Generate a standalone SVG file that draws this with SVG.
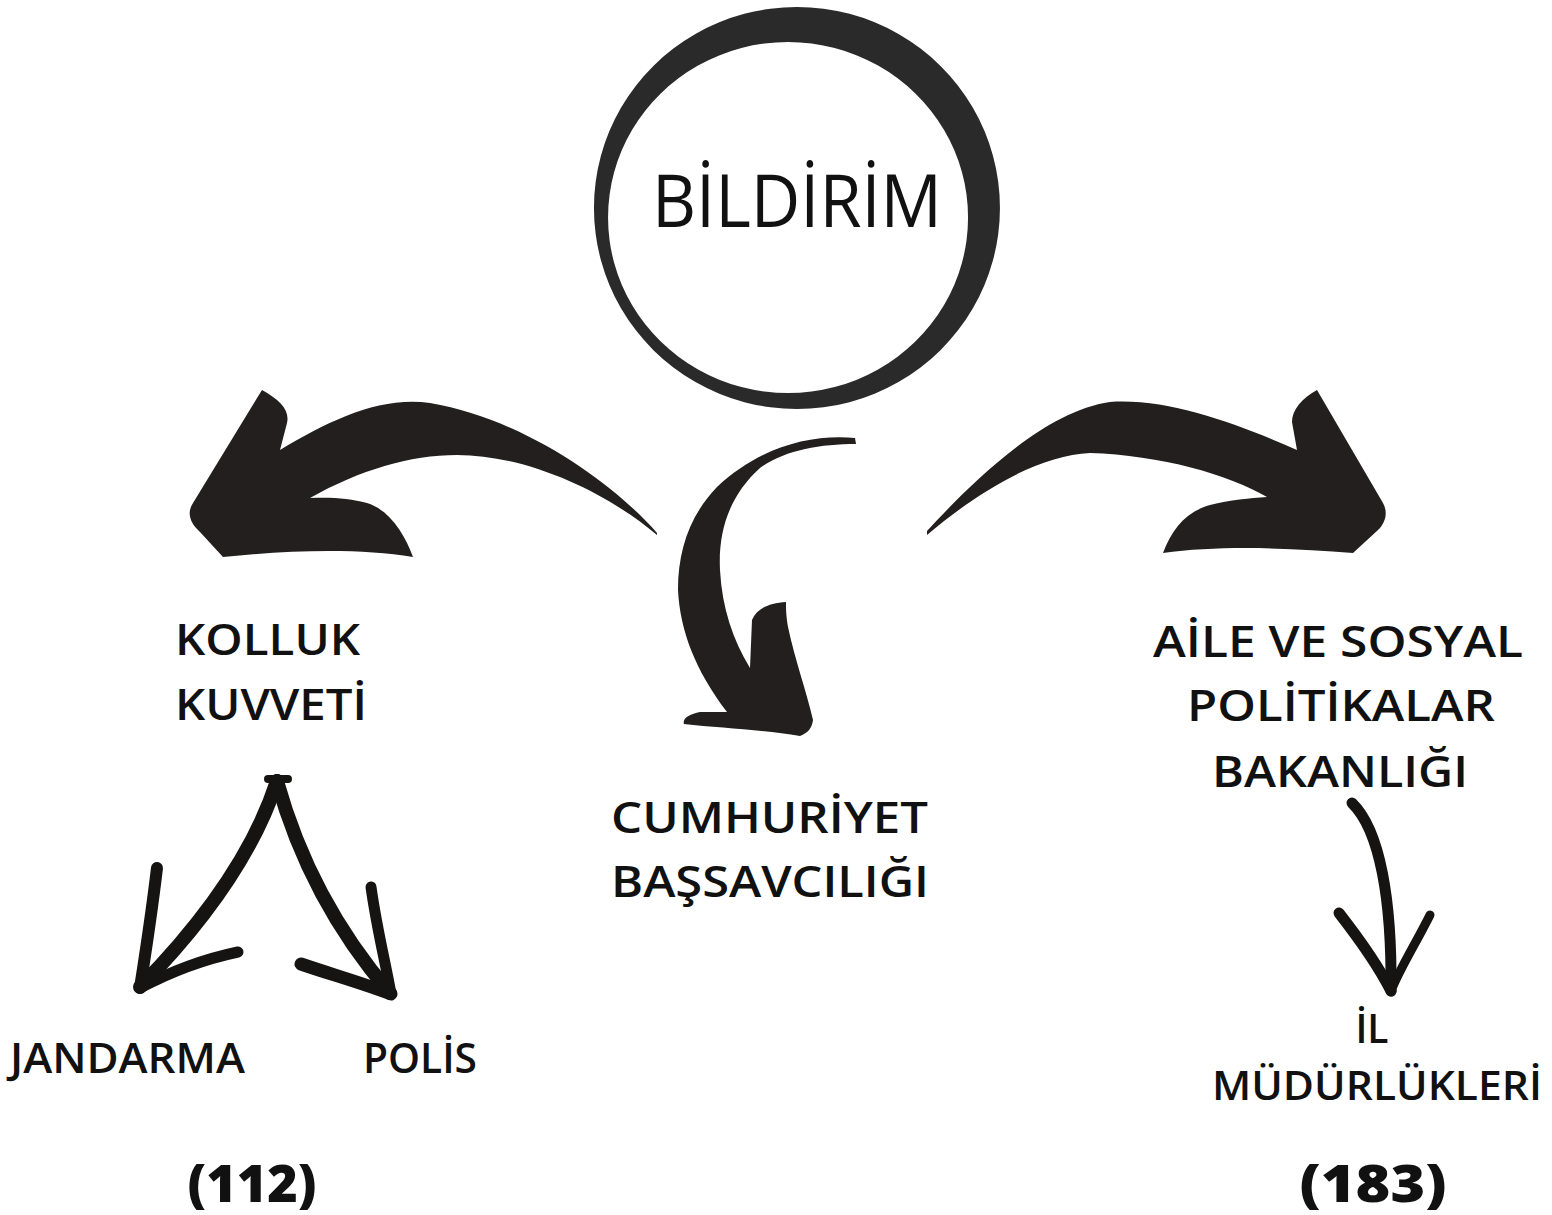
<svg xmlns="http://www.w3.org/2000/svg" width="1552" height="1215" viewBox="0 0 1552 1215">
<style>
.lbl{font-family:"Open Sans","Noto Sans","DejaVu Sans",sans-serif;font-weight:600;fill:#111;}
.title{font-family:"Open Sans","Noto Sans","DejaVu Sans",sans-serif;font-weight:400;fill:#111;}
.num{font-family:"Open Sans","Noto Sans","DejaVu Sans",sans-serif;font-weight:800;fill:#111;}
.big{fill:#221f1e;}
.ink{fill:none;stroke:#151413;stroke-linecap:round;stroke-linejoin:round;}
</style>
<rect width="1552" height="1215" fill="#fff"/>
<g id="bildirim">
<path fill="#2a2a2a" fill-rule="evenodd" d="M797,7 A203,201 0 1 1 796.9,7 Z M788,42 A180,175.5 0 1 0 788.1,42 Z"/>
<text class="title" x="652" y="227" font-size="74" textLength="290" lengthAdjust="spacingAndGlyphs">BİLDİRİM</text>
</g>
<g id="connectors">
<path class="big" d="M657,533 C620,490 530,420 430,403 C380,396 330,420 280,450 L287,423 C290,410 280,400 262,390 L193,503 C187,512 189,522 200,532 L223,557 C290,550 360,548 413,557 C405,535 390,510 367,503 C350,498 330,497 310,498 C360,470 410,455 457,455 C530,455 610,495 657,535 Z"/>
<path class="big" d="M927,531 C965,490 1040,412 1110,402 C1170,398 1240,425 1297,450 L1292,422 C1292,410 1302,398 1317,390 L1383,503 C1388,512 1386,522 1378,530 L1353,553 C1290,548 1220,545 1163,553 C1172,530 1185,512 1210,505 C1230,500 1250,498 1267,497 C1230,475 1160,455 1090,453 C1040,455 980,490 927,535 Z"/>
<path class="big" d="M855,438 C810,434 760,447 717,487 C690,515 678,550 678,590 C680,630 695,670 727,712 L700,712 C690,714 682,718 684,724 C720,728 765,730 800,736 C808,733 812,728 813,720 C806,690 795,660 788,627 C786,615 786,608 786,602 C770,603 757,608 752,620 L750,668 C733,640 722,608 720,570 C718,530 730,495 760,468 C785,450 820,444 856,444 Z"/>
<path class="ink" stroke-width="14" d="M277,781 Q245,880 140,987"/>
<path class="ink" stroke-width="14" d="M277,781 Q310,900 390,993"/>
<path class="ink" stroke-width="8" d="M268,779 L288,779"/>
<path class="ink" stroke-width="12" d="M157,868 C152,910 146,950 140,988"/>
<path class="ink" stroke-width="11" d="M238,952 C200,960 170,972 140,988"/>
<path class="ink" stroke-width="11" d="M371,887 C377,930 385,960 391,994"/>
<path class="ink" stroke-width="13" d="M301,964 C330,974 362,983 391,994"/>
<path class="ink" stroke-width="11" d="M1352,803 C1380,830 1392,900 1391,991"/>
<path class="ink" stroke-width="11" d="M1339,913 C1360,940 1378,965 1391,991"/>
<path class="ink" stroke-width="9" d="M1430,915 C1415,945 1400,968 1391,991"/>
</g>
<g id="kolluk">
<text class="lbl" x="175" y="655" font-size="44" textLength="185" lengthAdjust="spacingAndGlyphs">KOLLUK</text>
<text class="lbl" x="175" y="720" font-size="44" textLength="192" lengthAdjust="spacingAndGlyphs">KUVVETİ</text>
</g>
<g id="cumhuriyet">
<text class="lbl" x="611" y="833" font-size="44" textLength="317" lengthAdjust="spacingAndGlyphs">CUMHURİYET</text>
<text class="lbl" x="611" y="897" font-size="44" textLength="318" lengthAdjust="spacingAndGlyphs">BAŞSAVCILIĞI</text>
</g>
<g id="aile">
<text class="lbl" x="1338" y="657" font-size="44" text-anchor="middle" textLength="370" lengthAdjust="spacingAndGlyphs">AİLE VE SOSYAL</text>
<text class="lbl" x="1341" y="721" font-size="44" text-anchor="middle" textLength="308" lengthAdjust="spacingAndGlyphs">POLİTİKALAR</text>
<text class="lbl" x="1340" y="787" font-size="44" text-anchor="middle" textLength="256" lengthAdjust="spacingAndGlyphs">BAKANLIĞI</text>
</g>
<g id="jandarma">
<text class="lbl" x="10" y="1073" font-size="41" textLength="235" lengthAdjust="spacingAndGlyphs">JANDARMA</text>
</g>
<g id="polis">
<text class="lbl" x="363" y="1073" font-size="41" textLength="114" lengthAdjust="spacingAndGlyphs">POLİS</text>
</g>
<g id="il-mudurlukleri">
<text class="lbl" x="1372" y="1043" font-size="39" text-anchor="middle">İL</text>
<text class="lbl" x="1377" y="1100" font-size="39" text-anchor="middle" textLength="330" lengthAdjust="spacingAndGlyphs">MÜDÜRLÜKLERİ</text>
</g>
<g id="num112">
<text class="num" x="252" y="1202" font-size="52" text-anchor="middle" textLength="129" lengthAdjust="spacingAndGlyphs">(112)</text>
</g>
<g id="num183">
<text class="num" x="1373" y="1202" font-size="52" text-anchor="middle" textLength="147" lengthAdjust="spacingAndGlyphs">(183)</text>
</g>
</svg>
